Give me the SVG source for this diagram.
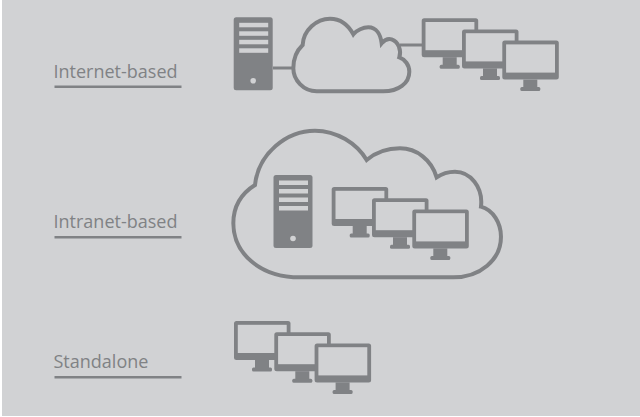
<svg xmlns="http://www.w3.org/2000/svg" width="640" height="417" viewBox="0 0 640 417">
<style>
.bg{fill:#d1d2d4}
.lbl{font-family:"Open Sans","Noto Sans",sans-serif;font-size:18px;fill:#808285}
.rule{fill:#808285}
.cloud{fill:none;stroke:#808285}
.conn{stroke:#808285;stroke-width:3;fill:none}
.dark{fill:#808285}
.light{fill:#d1d2d4}
</style>
<defs>
<g id="mon">
<rect x="0" y="0" width="56.500" height="39" rx="2.500" class="dark"/>
<rect x="3.800" y="3.800" width="48.900" height="28.200" class="light"/>
<rect x="21" y="39" width="14" height="8" class="dark"/>
<rect x="18" y="46.500" width="20" height="4" rx="1.500" class="dark"/>
</g>
<g id="monset">
<use href="#mon"/>
<use href="#mon" x="40.300" y="11.200"/>
<use href="#mon" x="80.600" y="22.400"/>
</g>
<g id="srv">
<rect x="0" y="0" width="39" height="73" rx="2.500" class="dark"/>
<rect x="5.500" y="5.500" width="29" height="4.500" class="light"/>
<rect x="5.500" y="14" width="29" height="4.500" class="light"/>
<rect x="5.500" y="22.500" width="29" height="4.500" class="light"/>
<rect x="5.500" y="31" width="29" height="4.500" class="light"/>
<circle cx="19.500" cy="63.500" r="2.800" class="light"/>
</g>
</defs>
<rect class="bg" x="2" y="0" width="638" height="416"/>
<g id="connectors">
<path class="conn" d="M273 68H294"/>
<path class="conn" d="M400 45H423"/>
</g>
<g id="label-internet"><text class="lbl" x="53.500" y="78">Internet-based</text><rect class="rule" x="54.500" y="85.500" width="127" height="2.500"/></g>
<g id="label-intranet"><text class="lbl" x="53.500" y="228">Intranet-based</text><rect class="rule" x="54.500" y="236" width="127" height="2.500"/></g>
<g id="label-standalone"><text class="lbl" x="53.500" y="368">Standalone</text><rect class="rule" x="54.500" y="376" width="127" height="2.500"/></g>
<g id="internet-server"><use href="#srv" x="233.700" y="17.300"/></g>
<g id="internet-cloud"><path class="cloud" stroke-width="12" transform="translate(220 0) scale(.3333)" d="M248 135C250 90 290 56 330 56C360 56 385 75 400 103C410 90 430 82 445 82C470 82 482 105 485 130C495 118 505 115 515 118C535 125 545 150 538 172C555 178 568 195 568 215C568 250 535 274 490 274L290 274C250 274 220 240 220 205C220 175 232 150 248 135Z"/></g>
<g id="internet-clients"><use href="#monset" x="421.700" y="18.200"/></g>
<g id="intranet-cloud"><path class="cloud" stroke-width="12" transform="translate(220 120) scale(.3333)" d="M105 195C115 100 200 32 285 32C350 32 410 70 440 120C470 95 510 85 540 85C590 85 635 120 650 172C670 158 690 155 705 155C750 155 790 200 783 260C820 270 843 310 843 350C843 420 780 472 700 472L240 472C120 472 40 400 40 310C40 260 65 220 105 195Z"/></g>
<g id="intranet-server"><use href="#srv" x="273.500" y="175"/></g>
<g id="intranet-clients"><use href="#monset" x="331.700" y="187"/></g>
<g id="standalone-clients"><use href="#monset" x="234" y="321"/></g>
</svg>
